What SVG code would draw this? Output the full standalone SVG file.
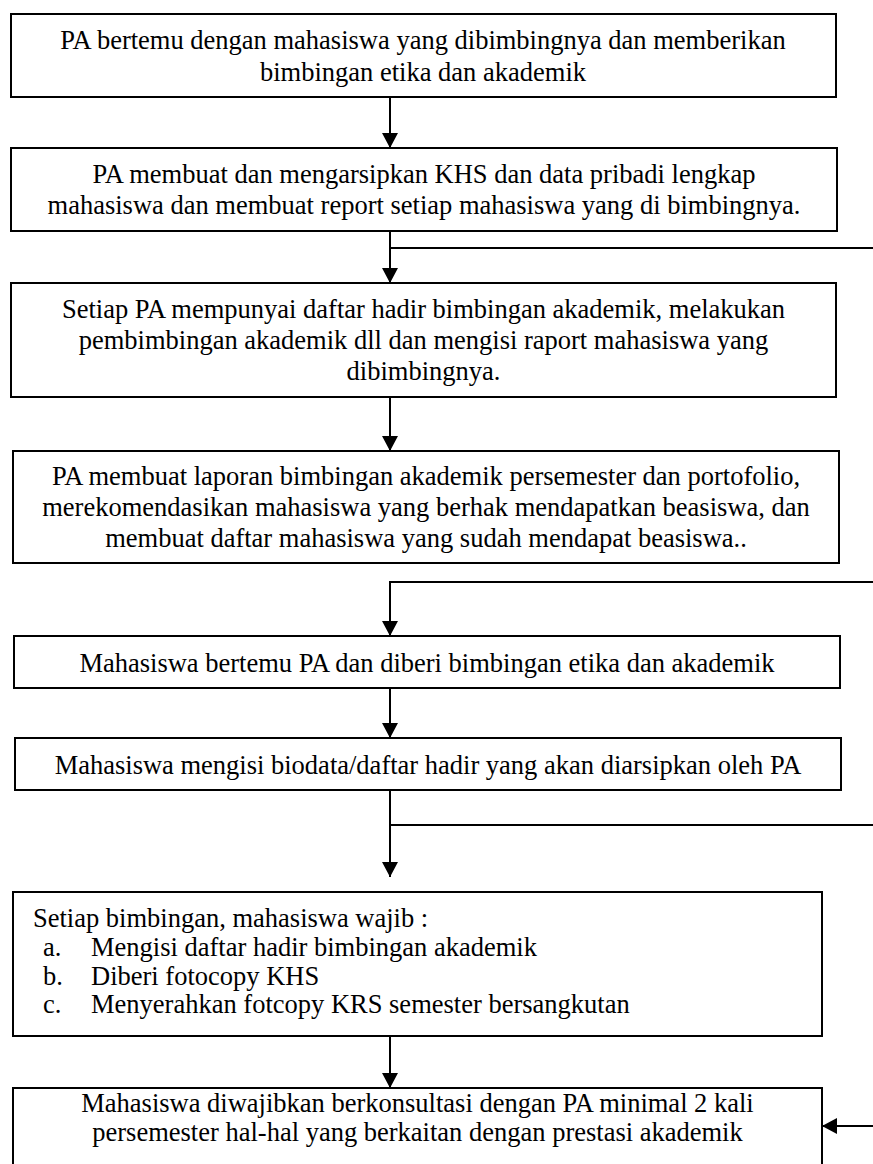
<svg xmlns="http://www.w3.org/2000/svg" width="873" height="1164" viewBox="0 0 873 1164">
<style>
.box{fill:#fff;stroke:#000;stroke-width:2}
.t{font-family:"Liberation Serif","Times New Roman",serif;font-size:26.5px;fill:#000}
.c{text-anchor:middle}
.ln{fill:none;stroke:#000;stroke-width:2}
</style>
<defs>
<marker id="ah" markerWidth="15" markerHeight="16" refX="15" refY="8" orient="auto" markerUnits="userSpaceOnUse">
<path d="M0,0 L15,8 L0,16 Z" fill="#000"/>
</marker>
</defs>
<rect width="873" height="1164" fill="#fff"/>
<g id="n1">
<rect class="box" x="11" y="14" width="825" height="83"/>
<text class="t c" x="423" y="49">PA bertemu dengan mahasiswa yang dibimbingnya dan memberikan</text>
<text class="t c" x="423" y="81">bimbingan etika dan akademik</text>
</g>
<g id="n2">
<rect class="box" x="11" y="148" width="826" height="83"/>
<text class="t c" x="424" y="183">PA membuat dan mengarsipkan KHS dan data pribadi lengkap</text>
<text class="t c" x="424" y="214">mahasiswa dan membuat report setiap mahasiswa yang di bimbingnya.</text>
</g>
<g id="n3">
<rect class="box" x="11" y="283" width="825" height="114"/>
<text class="t c" x="423.5" y="318">Setiap PA mempunyai daftar hadir bimbingan akademik, melakukan</text>
<text class="t c" x="423.5" y="349">pembimbingan akademik dll dan mengisi raport mahasiswa yang</text>
<text class="t c" x="423.5" y="380">dibimbingnya.</text>
</g>
<g id="n4">
<rect class="box" x="13" y="451" width="826" height="112"/>
<text class="t c" x="426" y="485">PA membuat laporan bimbingan akademik persemester dan portofolio,</text>
<text class="t c" x="426" y="516">merekomendasikan mahasiswa yang berhak mendapatkan beasiswa, dan</text>
<text class="t c" x="426" y="547">membuat daftar mahasiswa yang sudah mendapat beasiswa..</text>
</g>
<g id="n5">
<rect class="box" x="14" y="636" width="826" height="52"/>
<text class="t c" x="427" y="672">Mahasiswa bertemu PA dan diberi bimbingan etika dan akademik</text>
</g>
<g id="n6">
<rect class="box" x="15" y="738" width="826" height="52"/>
<text class="t c" x="428" y="774">Mahasiswa mengisi biodata/daftar hadir yang akan diarsipkan oleh PA</text>
</g>
<g id="n7">
<rect class="box" x="13" y="892" width="809" height="144"/>
<text class="t" x="33" y="927">Setiap bimbingan, mahasiswa wajib :</text>
<text class="t" x="43" y="956">a.</text>
<text class="t" x="91" y="956">Mengisi daftar hadir bimbingan akademik</text>
<text class="t" x="43" y="985">b.</text>
<text class="t" x="91" y="985">Diberi fotocopy KHS</text>
<text class="t" x="43" y="1013">c.</text>
<text class="t" x="91" y="1013">Menyerahkan fotcopy KRS semester bersangkutan</text>
</g>
<g id="n8">
<rect class="box" x="13" y="1088" width="809" height="100"/>
<text class="t c" x="417.5" y="1112">Mahasiswa diwajibkan berkonsultasi dengan PA minimal 2 kali</text>
<text class="t c" x="417.5" y="1141">persemester hal-hal yang berkaitan dengan prestasi akademik</text>
</g>
<g id="connectors">
<line class="ln" x1="390" y1="97" x2="390" y2="148" marker-end="url(#ah)"/>
<line class="ln" x1="390" y1="231" x2="390" y2="283" marker-end="url(#ah)"/>
<line class="ln" x1="390" y1="248" x2="873" y2="248"/>
<line class="ln" x1="390" y1="397" x2="390" y2="451" marker-end="url(#ah)"/>
<polyline class="ln" points="873,582 390,582 390,636" marker-end="url(#ah)"/>
<line class="ln" x1="390" y1="688" x2="390" y2="738" marker-end="url(#ah)"/>
<line class="ln" x1="390" y1="790" x2="390" y2="877" marker-end="url(#ah)"/>
<line class="ln" x1="390" y1="825" x2="873" y2="825"/>
<line class="ln" x1="390" y1="1036" x2="390" y2="1088" marker-end="url(#ah)"/>
<line class="ln" x1="873" y1="1126" x2="822" y2="1126" marker-end="url(#ah)"/>
</g>
</svg>
